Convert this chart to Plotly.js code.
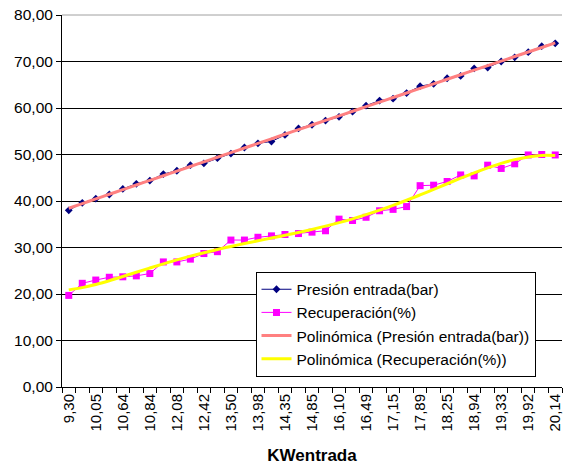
<!DOCTYPE html>
<html>
<head>
<meta charset="utf-8">
<script src="https://cdn.plot.ly/plotly-3.0.1.min.js"></script>
<style>
html,body{margin:0;padding:0;background:#fff;}
#chart{width:563px;height:466px;}
</style>
</head>
<body>
<div id="chart"></div>
<script>
// Categories (KW entrada); every other label is shown on the axis
const categories = ["9,30","9,68","10,05","10,31","10,64","10,75","10,84","11,47","12,08","12,26","12,42","12,95","13,50","13,73","13,98","14,17","14,35","14,61","14,85","15,46","16,10","16,31","16,49","16,80","17,15","17,53","17,89","18,06","18,25","18,61","18,94","19,15","19,33","19,60","19,92","20,04","20,14"];
const presion = [38.0,39.6,40.5,41.4,42.6,43.7,44.4,45.8,46.5,47.7,48.1,49.2,50.2,51.5,52.4,52.8,54.2,55.6,56.4,57.3,58.1,59.2,60.5,61.6,62.0,63.2,64.7,65.2,66.4,66.9,68.5,68.7,70.0,70.9,72.0,73.3,73.9];
const recuperacion = [19.7,22.3,23.0,23.6,23.7,23.9,24.4,26.9,26.9,27.5,28.7,29.1,31.6,31.6,32.2,32.5,32.8,33.0,33.3,33.6,36.1,35.8,36.5,37.9,38.2,38.8,43.3,43.4,44.2,45.6,45.4,47.7,47.0,48.0,49.9,50.0,49.9];
const seriesNames = ["Presión entrada(bar)","Recuperación(%)","Polinómica (Presión entrada(bar))","Polinómica (Recuperación(%))"];
const yTicks = [0,10,20,30,40,50,60,70,80];

// least-squares polynomial trendline (as Excel does, x = 1..n)
function polyfit(ys, order){
  const n = ys.length, m = order+1;
  const A = [];
  for(let r=0;r<m;r++){A.push(new Array(m+1).fill(0));}
  for(let i=0;i<n;i++){
    const x=(i+1)/n;
    for(let r=0;r<m;r++){
      for(let c=0;c<m;c++) A[r][c]+=Math.pow(x,r+c);
      A[r][m]+=ys[i]*Math.pow(x,r);
    }
  }
  for(let c=0;c<m;c++){
    let p=c;for(let r=c+1;r<m;r++) if(Math.abs(A[r][c])>Math.abs(A[p][c])) p=r;
    [A[c],A[p]]=[A[p],A[c]];
    for(let r=0;r<m;r++){ if(r===c) continue; const f=A[r][c]/A[c][c]; for(let k=c;k<=m;k++) A[r][k]-=f*A[c][k]; }
  }
  const coef=[];for(let r=0;r<m;r++) coef.push(A[r][m]/A[r][r]);
  return ys.map((_,i)=>{const x=(i+1)/n;let s=0;for(let r=0;r<m;r++) s+=coef[r]*Math.pow(x,r);return s;});
}
const fitP = polyfit(presion,2);
const fitR = polyfit(recuperacion,6);

const traces = [
  {x:categories,y:presion,name:seriesNames[0],type:'scatter',mode:'lines+markers',
   line:{color:'#000080',width:1},marker:{symbol:'diamond',size:6,color:'#000080'}},
  {x:categories,y:recuperacion,name:seriesNames[1],type:'scatter',mode:'lines+markers',
   line:{color:'#FF00FF',width:1},marker:{symbol:'square',size:7,color:'#FF00FF'}},
  {x:categories,y:fitP,name:seriesNames[2],type:'scatter',mode:'lines',
   line:{color:'#FF8080',width:3,shape:'spline'}},
  {x:categories,y:fitR,name:seriesNames[3],type:'scatter',mode:'lines',
   line:{color:'#FFFF00',width:3,shape:'spline'}}
];

const layout = {
  width:563,height:466,
  margin:{l:62,r:1,t:15,b:79,pad:0},
  paper_bgcolor:'#fff',plot_bgcolor:'#fff',
  separators:',.',
  font:{family:'Liberation Sans, Arial, sans-serif',color:'#000',size:14},
  showlegend:true,
  legend:{x:0.387,y:0.31,xanchor:'left',yanchor:'top',bgcolor:'#fff',bordercolor:'#000',borderwidth:1,
    font:{size:15.5,family:'Liberation Sans, Arial, sans-serif'},itemwidth:30,tracegroupgap:0},
  xaxis:{type:'category',categoryorder:'array',categoryarray:categories,
    tickmode:'array',tickvals:categories,ticktext:categories.map((c,i)=>i%2===0?c:''),
    tickson:'boundaries',ticks:'outside',ticklen:5,tickcolor:'#000',tickwidth:1,
    tickangle:-90,tickfont:{size:15},showgrid:false,showline:true,linecolor:'#000',linewidth:1,
    zeroline:false,range:[-0.5,36.5],
    title:{text:'<b>KWentrada</b>',font:{size:17},standoff:18}},
  yaxis:{range:[0,80],tickmode:'array',tickvals:yTicks,tickformat:'.2f',
    ticks:'outside',ticklen:5,tickcolor:'#000',tickwidth:1,tickfont:{size:15.5},
    showgrid:true,gridcolor:'#000',gridwidth:1,showline:true,linecolor:'#000',linewidth:1,zeroline:false},
  shapes:[{type:'line',xref:'paper',yref:'paper',x0:0,x1:1,y0:1,y1:1,line:{color:'#a0a0a0',width:1},layer:'above'}]
};

Plotly.newPlot('chart',traces,layout,{displayModeBar:false,staticPlot:true});
</script>
</body>
</html>
